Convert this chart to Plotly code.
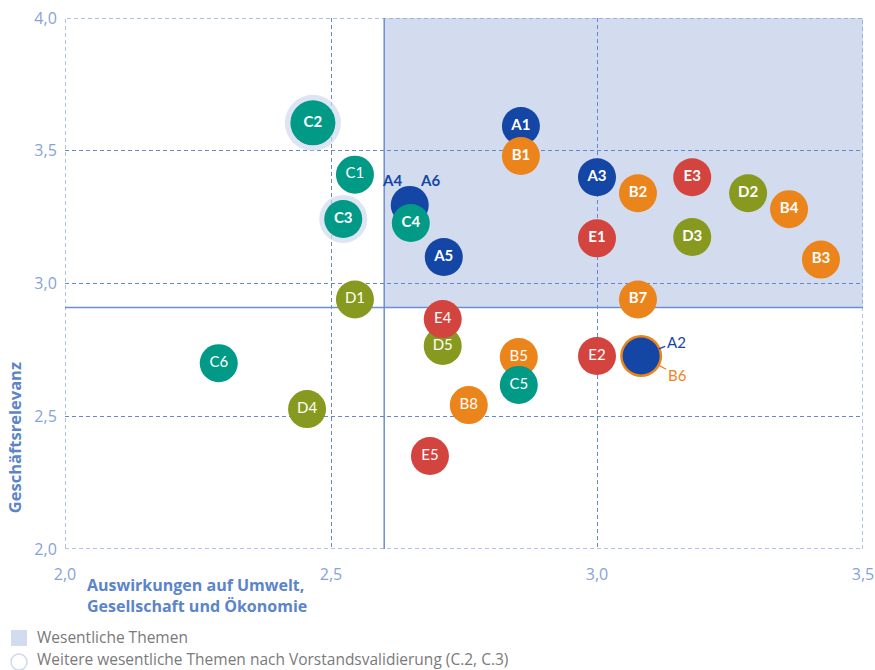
import plotly.graph_objects as go

# ---------------- data ----------------
GROUPS = ["A", "B", "C", "D", "E"]
COLORS = {"A": "#1446a6", "B": "#ec841c", "C": "#009a86", "D": "#879a1f", "E": "#d4443f"}

A_labels = ["A1", "A2", "A3", "A4", "A5", "A6"]
A_x = [2.857, 3.083, 3.000, 2.648, 2.712, 2.648]
A_y = [3.593, 2.727, 3.400, 3.296, 3.100, 3.296]

B_labels = ["B1", "B2", "B3", "B4", "B5", "B6", "B7", "B8"]
B_x = [2.857, 3.077, 3.421, 3.361, 2.853, 3.083, 3.077, 2.759]
B_y = [3.480, 3.340, 3.090, 3.280, 2.723, 2.727, 2.940, 2.542]

C_labels = ["C1", "C2", "C3", "C4", "C5", "C6"]
C_x = [2.545, 2.466, 2.523, 2.650, 2.853, 2.289]
C_y = [3.410, 3.605, 3.243, 3.228, 2.618, 2.700]

D_labels = ["D1", "D2", "D3", "D4", "D5"]
D_x = [2.545, 3.284, 3.179, 2.455, 2.710]
D_y = [2.940, 3.340, 3.175, 2.527, 2.765]

E_labels = ["E1", "E2", "E3", "E4", "E5"]
E_x = [3.000, 3.000, 3.179, 2.710, 2.686]
E_y = [3.170, 2.727, 3.400, 2.866, 2.350]

THRESHOLD_X = 2.6
THRESHOLD_Y = 2.91
VALIDATED = ["C2", "C3"]          # added after board validation
X_TICKS = [2.0, 2.5, 3.0, 3.5]
Y_TICKS = [2.0, 2.5, 3.0, 3.5, 4.0]
X_TITLE = "Auswirkungen auf Umwelt,<br>Gesellschaft und Ökonomie"
Y_TITLE = "Geschäftsrelevanz"
LEGEND_1 = "Wesentliche Themen"
LEGEND_2 = "Weitere wesentliche Themen nach Vorstandsvalidierung (C.2, C.3)"

DATA = {
    "A": (A_labels, A_x, A_y),
    "B": (B_labels, B_x, B_y),
    "C": (C_labels, C_x, C_y),
    "D": (D_labels, D_x, D_y),
    "E": (E_labels, E_x, E_y),
}

# ---------------- styling ----------------
FONT = "Lato"
FONT2 = "Open Sans"
GRID = "#6388cf"
TICK = "#86a3d9"
TITLE = "#5b84c9"
SHADE = "#d2dcee"
HALO = "#cfd9ec"
BUBBLE = 38

fig = go.Figure()

all_pts = []
for g in GROUPS:
    labs, xs, ys = DATA[g]
    for l, x, y in zip(labs, xs, ys):
        all_pts.append((g, l, x, y))

def key(x, y):
    return (round(x, 3), round(y, 3))

pos_count = {}
for g, l, x, y in all_pts:
    pos_count.setdefault(key(x, y), []).append((g, l))

shared = {k: v for k, v in pos_count.items() if len(v) > 1}
shared_labels = {l for v in shared.values() for (g, l) in v}

def is_bold(l, x, y):
    return (x >= THRESHOLD_X and y >= THRESHOLD_Y) or l in VALIDATED

# halo for validated topics
hx, hy, hs = [], [], []
for g, l, x, y in all_pts:
    if l in VALIDATED:
        hx.append(x); hy.append(y)
        hs.append(56 if l == "C2" else 48)
fig.add_trace(go.Scatter(x=hx, y=hy, mode="markers", hoverinfo="skip",
                         marker=dict(size=hs, color=HALO, line=dict(width=0)),
                         showlegend=False))

# ring for shared points of different groups
ring_skip = set()
for k, members in shared.items():
    groups = {g for g, l in members}
    if len(groups) > 1:
        g2, l2 = members[-1]
        ring_skip.add(l2)
        fig.add_trace(go.Scatter(x=[k[0]], y=[k[1]], mode="markers", hoverinfo="skip",
                                 marker=dict(size=BUBBLE + 4, color=COLORS[g2], line=dict(width=0)),
                                 showlegend=False))

for g in GROUPS:
    labs, xs, ys = DATA[g]
    px, py, txt, sz = [], [], [], []
    seen = set()
    for l, x, y in zip(labs, xs, ys):
        if l in ring_skip:
            continue
        if key(x, y) in seen:
            continue
        seen.add(key(x, y))
        px.append(x); py.append(y)
        if l in shared_labels:
            txt.append("")
            sz.append(BUBBLE - 1 if l == "A2" else BUBBLE)
        else:
            txt.append(f"<b>{l}</b>" if is_bold(l, x, y) else l)
            sz.append(45 if l == "C2" else BUBBLE)
    fig.add_trace(go.Scatter(
        x=px, y=py, mode="markers+text", text=txt, textposition="middle center",
        textfont=dict(family=FONT, size=15, color="white"),
        marker=dict(size=sz, color=COLORS[g], line=dict(width=0), opacity=1),
        hoverinfo="text", showlegend=False))

# outside labels for shared points
annotations = []
for k, members in shared.items():
    if len(members) == 2:
        (g1, l1), (g2, l2) = members
        if g1 == g2:
            offs = [(-18, -25), (20, -25)]
        else:
            offs = [(35, -14), (36, 19)]
        for (g, l), (ax, ay) in zip(members, offs):
            t = f"<b>{l}</b>" if is_bold(l, k[0], k[1]) else l
            annotations.append(dict(
                x=k[0], y=k[1], xref="x", yref="y", text=t, showarrow=True,
                ax=ax, ay=ay, arrowhead=0, arrowwidth=1.2, arrowcolor=COLORS[g],
                standoff=19, font=dict(family=FONT, size=15, color=COLORS[g])))

# axis titles
annotations.append(dict(x=0.025, y=-0.043, xref="paper", yref="paper", text=f"<b>{X_TITLE}</b>",
                        showarrow=False, xanchor="left", yanchor="top", align="left",
                        font=dict(family=FONT2, size=16, color=TITLE)))
annotations.append(dict(x=-0.063, y=0.21, xref="paper", yref="paper", text=f"<b>{Y_TITLE}</b>",
                        showarrow=False, textangle=-90, xanchor="center", yanchor="middle",
                        font=dict(family=FONT2, size=16.5, color=TITLE)))

def px2x(p):
    return (p - 65) / 798
def px2y(p):
    return (549 - p) / 531

shapes = [
    dict(type="rect", xref="x", yref="y", x0=THRESHOLD_X, x1=X_TICKS[-1], y0=THRESHOLD_Y, y1=Y_TICKS[-1],
         fillcolor=SHADE, line=dict(width=0), layer="below"),
    dict(type="rect", xref="x", yref="y", x0=X_TICKS[0], x1=X_TICKS[-1], y0=Y_TICKS[0], y1=Y_TICKS[-1],
         line=dict(color=GRID, width=1, dash="4px,3px"), layer="between"),
    dict(type="line", xref="x", yref="y", x0=THRESHOLD_X, x1=THRESHOLD_X, y0=Y_TICKS[0], y1=Y_TICKS[-1],
         line=dict(color="#6c8fd1", width=1.5), layer="between"),
    dict(type="line", xref="x", yref="y", x0=X_TICKS[0], x1=X_TICKS[-1], y0=THRESHOLD_Y, y1=THRESHOLD_Y,
         line=dict(color="#6c8fd1", width=1.5), layer="between"),
    dict(type="rect", xref="paper", yref="paper", x0=px2x(11), x1=px2x(27), y0=px2y(646), y1=px2y(630),
         fillcolor=SHADE, line=dict(width=0)),
    dict(type="circle", xref="paper", yref="paper", x0=px2x(11), x1=px2x(27), y0=px2y(670), y1=px2y(654),
         fillcolor="white", line=dict(color=HALO, width=1.5)),
]
annotations.append(dict(x=px2x(35), y=px2y(637), xref="paper", yref="paper", text=LEGEND_1,
                        showarrow=False, xanchor="left", yanchor="middle",
                        font=dict(family=FONT2, size=15.5, color="#7a7a7a")))
annotations.append(dict(x=px2x(35), y=px2y(658.5), xref="paper", yref="paper", text=LEGEND_2,
                        showarrow=False, xanchor="left", yanchor="middle",
                        font=dict(family=FONT2, size=15.5, color="#7a7a7a")))

axis_common = dict(showgrid=True, gridcolor=GRID, griddash="4px,3px", gridwidth=1,
                   zeroline=False, showline=False, tickformat=".1f", automargin=False,
                   tickfont=dict(family=FONT2, size=16, color=TICK), fixedrange=True)

fig.update_layout(
    width=875, height=670,
    margin=dict(l=65, r=12, t=18, b=121, autoexpand=False),
    paper_bgcolor="white", plot_bgcolor="white",
    separators=",.",
    xaxis=dict(range=[X_TICKS[0], X_TICKS[-1]], tickvals=X_TICKS, ticks="outside",
               ticklen=11, tickcolor="rgba(0,0,0,0)", **axis_common),
    yaxis=dict(range=[Y_TICKS[0], Y_TICKS[-1]], tickvals=Y_TICKS, ticks="outside",
               ticklen=4, tickcolor="rgba(0,0,0,0)", **axis_common),
    shapes=shapes, annotations=annotations, showlegend=False,
)

fig.write_html(
    "out.html",
    config={"displayModeBar": False, "responsive": False},
    post_script="document.body.style.margin='0';document.body.style.overflow='hidden';",
)
